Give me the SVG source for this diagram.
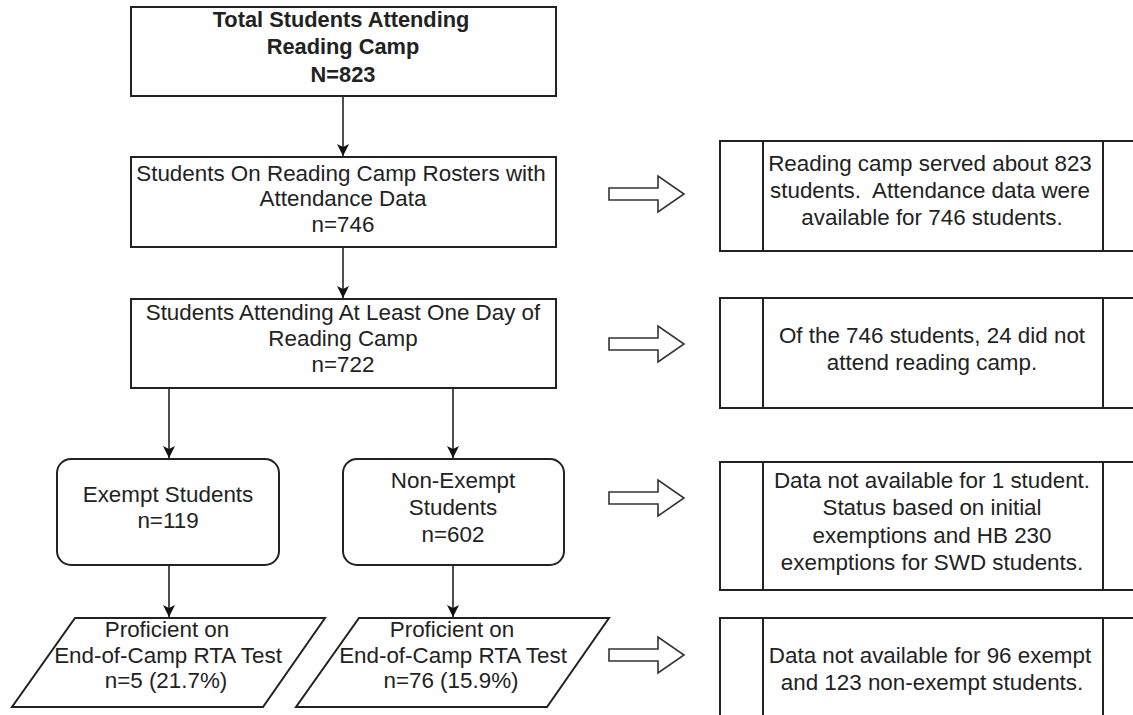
<svg xmlns="http://www.w3.org/2000/svg" width="1133" height="715" viewBox="0 0 1133 715">
  <style>
    .box { fill: #ffffff; stroke: #222222; stroke-width: 2; }
    .div { fill: none; stroke: #222222; stroke-width: 2; }
    .edge { fill: none; stroke: #222222; stroke-width: 1.6; }
    .hollow { fill: #ffffff; stroke: #333333; stroke-width: 1.6; stroke-linejoin: miter; }
    .t { font-family: "Liberation Sans", Arial, sans-serif; font-size: 22.4px; fill: #222222; text-anchor: middle; }
    .tb { font-family: "Liberation Sans", Arial, sans-serif; font-size: 21.8px; font-weight: bold; fill: #222222; text-anchor: middle; }
  </style>
  <defs>
    <marker id="arrow" markerUnits="userSpaceOnUse" markerWidth="14" markerHeight="14" viewBox="0 0 14 14" refX="13" refY="7" orient="auto">
      <path d="M1,1 L13,7 L1,13 L4,7 Z" fill="#111111"/>
    </marker>
  </defs>
  <rect width="1133" height="715" fill="#ffffff"/>

  <!-- flow connectors -->
  <g id="connectors">
    <line class="edge" x1="343" y1="96" x2="343" y2="156" marker-end="url(#arrow)"/>
    <line class="edge" x1="343" y1="247" x2="343" y2="298" marker-end="url(#arrow)"/>
    <line class="edge" x1="169" y1="388" x2="169" y2="458" marker-end="url(#arrow)"/>
    <line class="edge" x1="453" y1="388" x2="453" y2="458" marker-end="url(#arrow)"/>
    <line class="edge" x1="169" y1="565" x2="169" y2="617" marker-end="url(#arrow)"/>
    <line class="edge" x1="453" y1="565" x2="453" y2="617" marker-end="url(#arrow)"/>
  </g>

  <!-- main flow -->
  <g id="total">
    <rect class="box" x="131" y="7" width="425" height="89"/>
    <text class="tb" x="341" y="27">Total Students Attending</text>
    <text class="tb" x="343" y="54">Reading Camp</text>
    <text class="tb" x="343" y="82">N=823</text>
  </g>

  <g id="rosters">
    <rect class="box" x="131" y="157" width="425" height="90"/>
    <text class="t" x="341" y="181">Students On Reading Camp Rosters with</text>
    <text class="t" x="343" y="206">Attendance Data</text>
    <text class="t" x="343" y="232">n=746</text>
  </g>

  <g id="attending">
    <rect class="box" x="131" y="299" width="425" height="89"/>
    <text class="t" x="343" y="320">Students Attending At Least One Day of</text>
    <text class="t" x="343" y="346">Reading Camp</text>
    <text class="t" x="343" y="372">n=722</text>
  </g>

  <g id="exempt">
    <rect class="box" x="57" y="459" width="222" height="106" rx="14" ry="14"/>
    <text class="t" x="168" y="502">Exempt Students</text>
    <text class="t" x="168" y="528">n=119</text>
  </g>

  <g id="nonexempt">
    <rect class="box" x="343" y="459" width="221" height="106" rx="14" ry="14"/>
    <text class="t" x="453" y="488">Non-Exempt</text>
    <text class="t" x="453" y="515">Students</text>
    <text class="t" x="453" y="542">n=602</text>
  </g>

  <g id="proficient-exempt">
    <polygon class="box" points="75,618 325,618 263,707 12,707"/>
    <text class="t" x="167" y="637">Proficient on</text>
    <text class="t" x="168" y="663">End-of-Camp RTA Test</text>
    <text class="t" x="166" y="688">n=5 (21.7%)</text>
  </g>

  <g id="proficient-nonexempt">
    <polygon class="box" points="359,618 609,618 547,707 296,707"/>
    <text class="t" x="452" y="637">Proficient on</text>
    <text class="t" x="453" y="663">End-of-Camp RTA Test</text>
    <text class="t" x="451" y="688">n=76 (15.9%)</text>
  </g>

  <!-- side notes with hollow arrows -->
  <g id="arrow-note-1">
    <polygon class="hollow" points="609,188 658,188 658,176 684,194 658,212 658,200 609,200"/>
  </g>
  <g id="note-1">
    <rect class="box" x="720" y="141" width="430" height="110"/>
    <line class="div" x1="763" y1="141" x2="763" y2="251"/>
    <line class="div" x1="1103" y1="141" x2="1103" y2="251"/>
    <text class="t" x="930" y="171">Reading camp served about 823</text>
    <text class="t" x="930" y="198">students.&#160; Attendance data were</text>
    <text class="t" x="932" y="225">available for 746 students.</text>
  </g>

  <g id="arrow-note-2">
    <polygon class="hollow" points="609,338 658,338 658,326 684,344 658,362 658,350 609,350"/>
  </g>
  <g id="note-2">
    <rect class="box" x="720" y="298" width="430" height="110"/>
    <line class="div" x1="763" y1="298" x2="763" y2="408"/>
    <line class="div" x1="1103" y1="298" x2="1103" y2="408"/>
    <text class="t" x="932" y="343">Of the 746 students, 24 did not</text>
    <text class="t" x="932" y="370">attend reading camp.</text>
  </g>

  <g id="arrow-note-3">
    <polygon class="hollow" points="609,492 658,492 658,480 684,498 658,516 658,504 609,504"/>
  </g>
  <g id="note-3">
    <rect class="box" x="720" y="462" width="430" height="128"/>
    <line class="div" x1="763" y1="462" x2="763" y2="590"/>
    <line class="div" x1="1103" y1="462" x2="1103" y2="590"/>
    <text class="t" x="932" y="488">Data not available for 1 student.</text>
    <text class="t" x="932" y="515">Status based on initial</text>
    <text class="t" x="932" y="543">exemptions and HB 230</text>
    <text class="t" x="932" y="570">exemptions for SWD students.</text>
  </g>

  <g id="arrow-note-4">
    <polygon class="hollow" points="609,649 658,649 658,637 684,655 658,673 658,661 609,661"/>
  </g>
  <g id="note-4">
    <rect class="box" x="720" y="618" width="430" height="110"/>
    <line class="div" x1="763" y1="618" x2="763" y2="728"/>
    <line class="div" x1="1103" y1="618" x2="1103" y2="728"/>
    <text class="t" x="930" y="663">Data not available for 96 exempt</text>
    <text class="t" x="932" y="690">and 123 non-exempt students.</text>
  </g>
</svg>
